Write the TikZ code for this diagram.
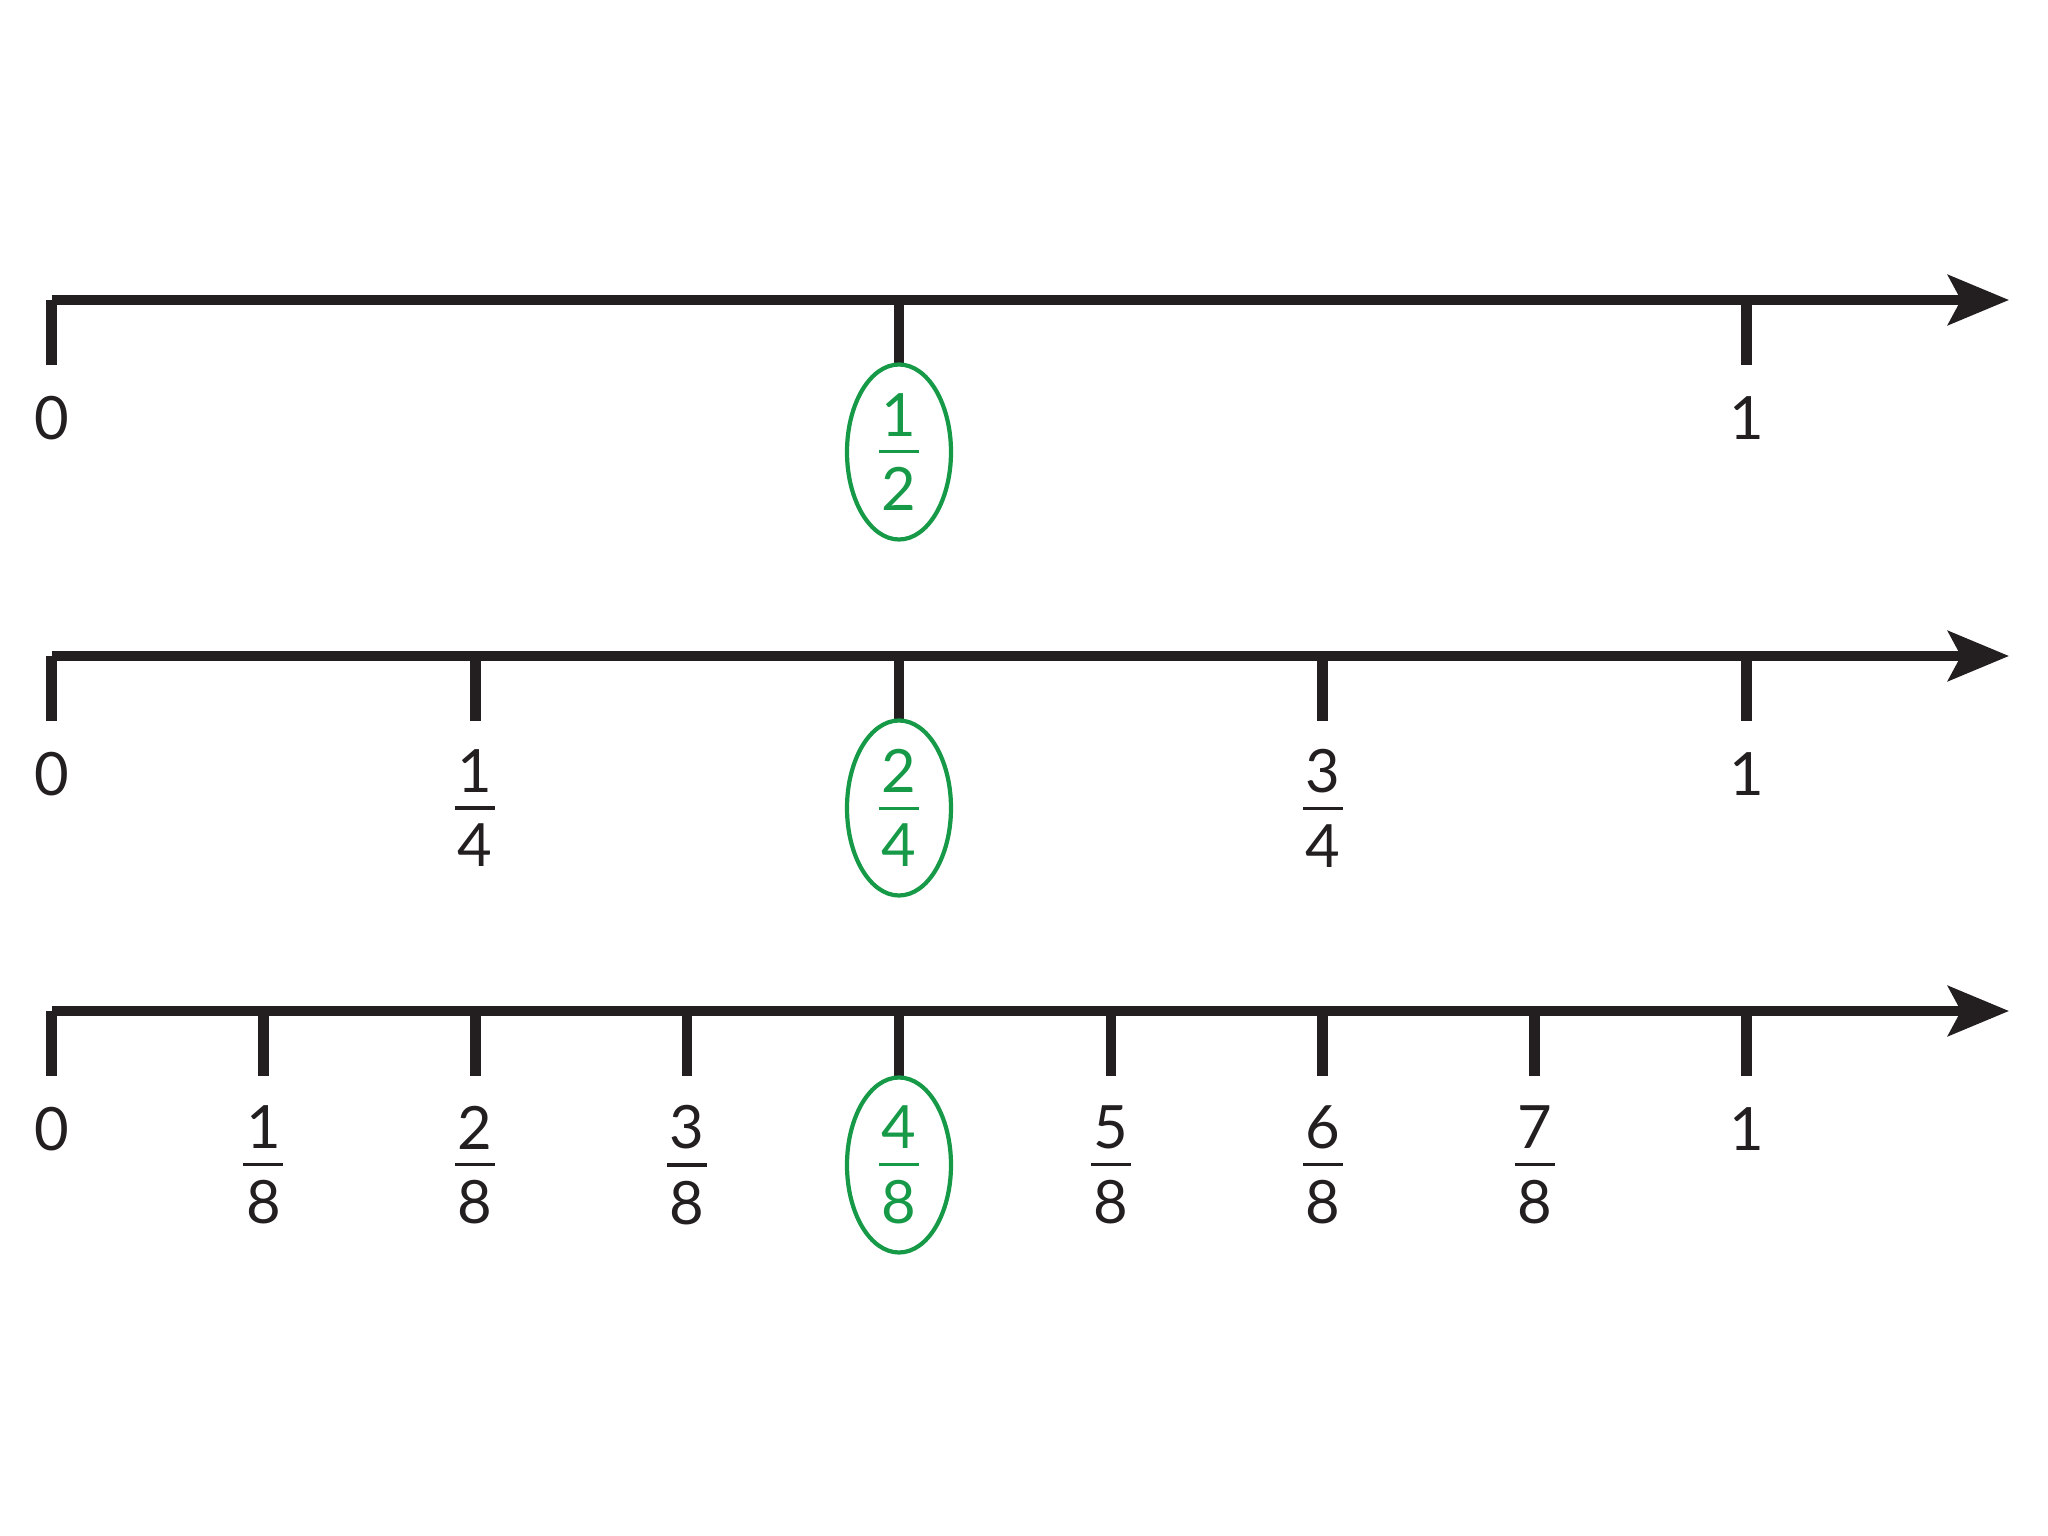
\documentclass[tikz,border=0pt]{standalone}
\usepackage{fontspec}
\setmainfont{Lato}
\usetikzlibrary{arrows.meta,shapes.geometric,calc}
\definecolor{inkblack}{HTML}{231F20}
\definecolor{markgreen}{HTML}{179A48}
% stacked fraction in text digits
\newcommand{\fracnum}[2]{$\vcenter{\hbox to 0.4cm{\hss#1\hss}\kern4pt\hrule height 0.95pt\kern4pt\hbox to 0.4cm{\hss#2\hss}}$}

\begin{document}
\begin{tikzpicture}[
        axis/.style={line width=2.6pt, inkblack, -{Stealth[length=0.61cm, width=0.5cm, inset=0.13cm]}},
        tickmark/.style={line width=3pt, inkblack},
        numlabel/.style={font=\fontsize{17}{19}\selectfont, text=inkblack, inner sep=0pt},
        ring/.style={ellipse, draw=markgreen, line width=1.2pt, minimum width=1.04cm, minimum height=1.75cm, inner sep=0pt}
    ]
        \useasboundingbox (0,0) rectangle (20.48,-15.36);
        \def\unit{16.95}

        % Line 1: halves
        \coordinate (a0) at (0.515,-3.00);
        \coordinate (aEnd) at (20.09,-3.00);
        \draw[axis] (a0) -- (aEnd);
        \foreach \k in {0,1,2}
            \draw[tickmark] ($(a0)+(\unit*\k/2,0)$) -- ++(0,-0.65);
        \node[numlabel] (a0lab) at ($(a0)+(0,-1.18)$) {0};
        \node[numlabel] (a2lab) at ($(a0)+(\unit,-1.18)$) {1};
        \node[numlabel, text=markgreen] (a1lab) at ($(a0)+(\unit/2,-1.52)$) {\fracnum{1}{2}};
        \node[ring] (a1ring) at (a1lab) {};

        % Line 2: quarters
        \coordinate (b0) at (0.515,-6.56);
        \coordinate (bEnd) at (20.09,-6.56);
        \draw[axis] (b0) -- (bEnd);
        \foreach \k in {0,...,4}
            \draw[tickmark] ($(b0)+(\unit*\k/4,0)$) -- ++(0,-0.65);
        \node[numlabel] (b0lab) at ($(b0)+(0,-1.18)$) {0};
        \node[numlabel] (b4lab) at ($(b0)+(\unit,-1.18)$) {1};
        \node[numlabel] (b1lab) at ($(b0)+(\unit/4,-1.52)$) {\fracnum{1}{4}};
        \node[numlabel, text=markgreen] (b2lab) at ($(b0)+(\unit/2,-1.52)$) {\fracnum{2}{4}};
        \node[numlabel] (b3lab) at ($(b0)+(\unit*3/4,-1.52)$) {\fracnum{3}{4}};
        \node[ring] (b2ring) at (b2lab) {};

        % Line 3: eighths
        \coordinate (c0) at (0.515,-10.11);
        \coordinate (cEnd) at (20.09,-10.11);
        \draw[axis] (c0) -- (cEnd);
        \foreach \k in {0,...,8}
            \draw[tickmark] ($(c0)+(\unit*\k/8,0)$) -- ++(0,-0.65);
        \node[numlabel] (c0lab) at ($(c0)+(0,-1.18)$) {0};
        \node[numlabel] (c8lab) at ($(c0)+(\unit,-1.18)$) {1};
        \foreach \k in {1,2,3,5,6,7}
            \node[numlabel] (c\k lab) at ($(c0)+(\unit*\k/8,-1.54)$) {\fracnum{\k}{8}};
        \node[numlabel, text=markgreen] (c4lab) at ($(c0)+(\unit/2,-1.54)$) {\fracnum{4}{8}};
        \node[ring] (c4ring) at (c4lab) {};
    \end{tikzpicture}
\end{document}
